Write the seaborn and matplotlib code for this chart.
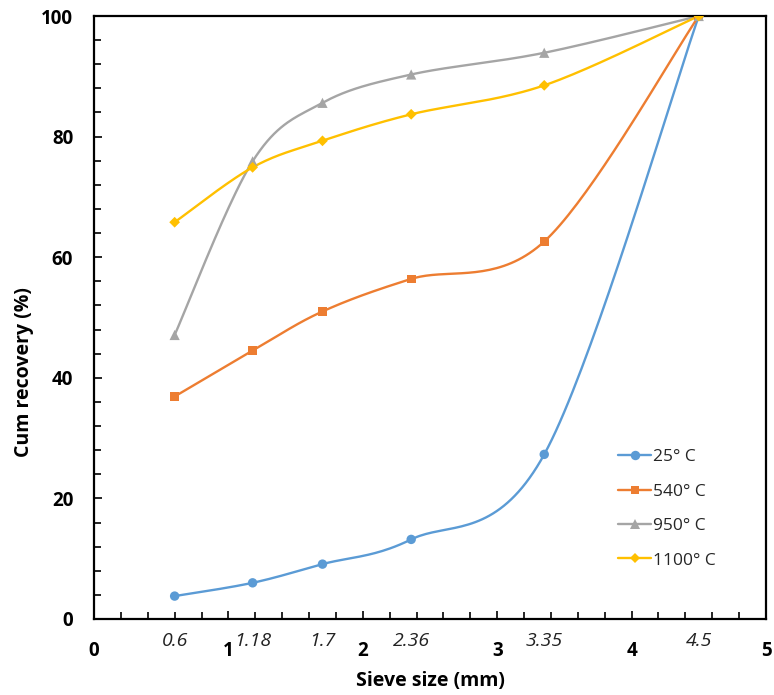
import numpy as np
import pandas as pd
import matplotlib
matplotlib.use("Agg")
import matplotlib.pyplot as plt
from matplotlib.lines import Line2D
from matplotlib.ticker import MultipleLocator
import matplotlib.transforms as mtransforms
import seaborn as sns

# Sieve sizes (mm) and cumulative recovery (%) per roasting temperature
sieve = [0.6, 1.18, 1.7, 2.36, 3.35, 4.5]
sieve_labels = ["0.6", "1.18", "1.7", "2.36", "3.35", "4.5"]
rec_25 = [3.8, 6.0, 9.1, 13.2, 27.3, 100]
rec_540 = [36.9, 44.5, 51.0, 56.4, 62.6, 100]
rec_950 = [47.1, 75.9, 85.6, 90.3, 93.9, 100]
rec_1100 = [65.8, 74.9, 79.3, 83.7, 88.5, 100]

series_names = ["25° C", "540° C", "950° C", "1100° C"]
series_values = [rec_25, rec_540, rec_950, rec_1100]
colors = ["#5B9BD5", "#ED7D31", "#A5A5A5", "#FFC000"]
markers = ["o", "s", "^", "D"]
marker_sizes = [46, 40, 54, 30]


def smooth_curve(xs, ys, n=40):
    """Cubic Bezier smoothing through the points (Catmull-Rom style tangents)."""
    p = np.column_stack([xs, ys]).astype(float)
    ext = np.vstack([p[0], p, p[-1]])
    t = np.linspace(0, 1, n)[:, None]
    out = []
    for i in range(len(p) - 1):
        p0, p1, p2, p3 = ext[i], ext[i + 1], ext[i + 2], ext[i + 3]
        c1 = p1 + (p2 - p0) / 6.0
        c2 = p2 - (p3 - p1) / 6.0
        seg = ((1 - t) ** 3) * p1 + 3 * ((1 - t) ** 2) * t * c1 + 3 * (1 - t) * t ** 2 * c2 + t ** 3 * p2
        out.append(seg if i == 0 else seg[1:])
    out = np.vstack(out)
    return out[:, 0], out[:, 1]


sns.set_theme(style="white")
plt.rcParams["font.family"] = ["Open Sans", "DejaVu Sans"]

fig = plt.figure(figsize=(7.74, 6.95), dpi=100)
ax = fig.add_axes([94 / 774, 1 - 619 / 695, 672 / 774, 603 / 695])

handles = []
for name, vals, col, mk, ms in zip(series_names, series_values, colors, markers, marker_sizes):
    sx, sy = smooth_curve(sieve, vals)
    curve = pd.DataFrame({"x": sx, "y": sy})
    sns.lineplot(data=curve, x="x", y="y", sort=False, estimator=None,
                 color=col, linewidth=1.7, ax=ax, legend=False)
    pts = pd.DataFrame({"x": sieve, "y": vals})
    sns.scatterplot(data=pts, x="x", y="y", marker=mk, s=ms, color=col,
                    edgecolor="none", ax=ax, legend=False, zorder=3)
    handles.append(Line2D([], [], color=col, marker=mk, linewidth=1.7,
                          markersize=np.sqrt(ms), markeredgewidth=0, label=name))

ax.set_xlim(0, 5)
ax.set_ylim(0, 100)
ax.xaxis.set_major_locator(MultipleLocator(1))
ax.xaxis.set_minor_locator(MultipleLocator(0.2))
ax.yaxis.set_major_locator(MultipleLocator(20))
ax.yaxis.set_minor_locator(MultipleLocator(4))

for side in ["left", "right", "top", "bottom"]:
    ax.spines[side].set_visible(True)
    ax.spines[side].set_color("black")
    ax.spines[side].set_linewidth(1.6)

ax.tick_params(axis="both", which="both", direction="in", color="black",
               width=1.2, left=True, bottom=True, top=False, right=False)
ax.tick_params(axis="both", which="major", length=6)
ax.tick_params(axis="both", which="minor", length=5)
ax.tick_params(axis="x", which="major", pad=16, labelsize=13.5)
ax.tick_params(axis="y", which="major", pad=15, labelsize=13.5)
for lab in ax.get_xticklabels() + ax.get_yticklabels():
    lab.set_fontweight("bold")
    lab.set_color("black")

# Sieve sizes written under the axis at their positions
trans = mtransforms.blended_transform_factory(ax.transData, ax.transAxes)
for xv, txt in zip(sieve, sieve_labels):
    ax.text(xv, -0.022, txt, transform=trans, ha="center", va="top",
            fontsize=14, fontstyle="italic", color="#222222")

ax.set_xlabel("Sieve size (mm)", fontsize=14, fontweight="bold", color="black")
ax.set_ylabel("Cum recovery (%)", fontsize=14, fontweight="bold", color="black")
ax.xaxis.set_label_coords(0.5, -0.086)
ax.yaxis.set_label_coords(-0.09, 0.41)

ax.legend(handles=handles, loc="upper left", bbox_to_anchor=(0.77, 0.293),
          frameon=False, fontsize=12.5, handlelength=1.9, handletextpad=0.1,
          labelspacing=1.05, borderaxespad=0)

fig.savefig("out.png", dpi=100, facecolor="white")
